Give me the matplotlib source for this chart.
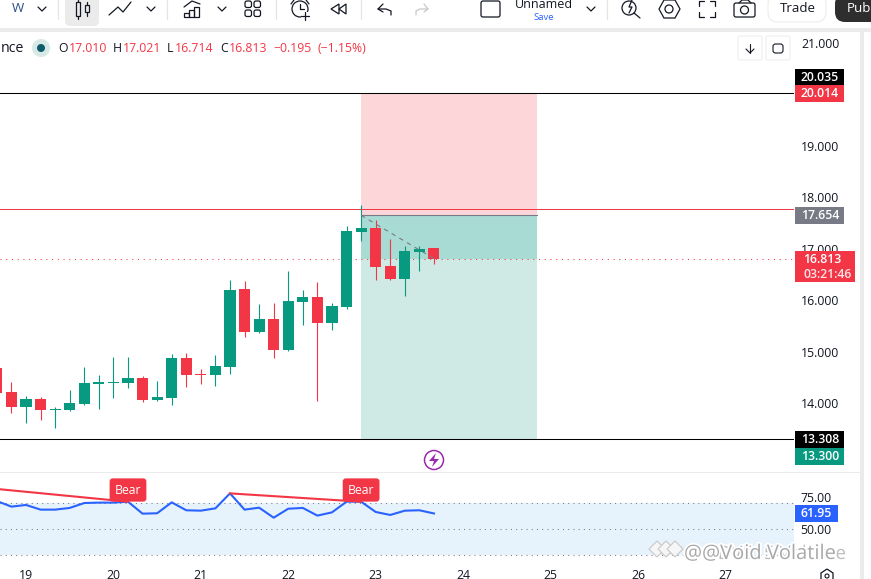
import matplotlib
matplotlib.use("Agg")
import matplotlib.pyplot as plt
import matplotlib.patheffects as pe
from matplotlib.patches import Rectangle, FancyBboxPatch, Circle, Polygon

plt.rcParams['font.family'] = ['Open Sans', 'DejaVu Sans']

# 4h candles, first one is just off the left edge
first_index = -2
opens = [14.69, 14.22, 13.93, 14.09, 13.87, 13.87, 13.99, 14.38, 14.40, 14.40, 14.50, 14.07, 14.11, 14.88, 14.57,
         14.55, 14.71, 16.22, 15.39, 15.64, 15.04, 15.97, 16.07, 15.56, 15.87, 17.33, 17.41, 16.67, 16.42, 16.94, 17.010]
highs = [14.75, 14.42, 14.15, 14.13, 13.93, 14.26, 14.71, 14.55, 14.90, 14.90, 14.53, 14.44, 14.96, 14.98, 14.67,
         14.94, 16.40, 16.38, 15.93, 15.95, 16.57, 16.20, 16.36, 15.95, 17.45, 17.85, 17.56, 17.19, 17.06, 17.06, 17.021]
lows = [14.15, 13.82, 13.62, 13.68, 13.52, 13.85, 13.97, 13.89, 14.11, 14.30, 14.03, 14.05, 13.97, 14.32, 14.38,
        14.34, 14.57, 15.29, 15.37, 14.88, 15.02, 15.52, 14.05, 15.43, 15.84, 17.16, 16.40, 16.40, 16.09, 16.57, 16.714]
closes = [14.20, 13.93, 14.09, 13.87, 13.89, 14.01, 14.40, 14.42, 14.42, 14.50, 14.07, 14.13, 14.88, 14.55, 14.55,
          14.73, 16.20, 15.39, 15.64, 15.04, 15.99, 16.07, 15.56, 15.89, 17.35, 17.41, 16.65, 16.42, 16.96, 17.00, 16.813]
rsi = [71.5, 67.2, 68.5, 64.9, 64.9, 66.2, 70.0, 70.3, 70.3, 71.0, 61.8, 62.1, 70.5, 64.4, 64.1, 65.9, 77.4,
       64.9, 66.4, 58.7, 65.6, 66.2, 60.3, 62.8, 71.0, 71.0, 63.1, 60.8, 64.1, 64.4, 61.95]

day_labels = ['19', '20', '21', '22', '23', '24', '25', '26', '27']
price_ticks = [14, 15, 16, 17, 18, 19, 20, 21]
rsi_ticks = [50, 75]
stop_price = 20.014
entry_price = 17.654
target_price = 13.300
last_price = 16.813
upper_line = 20.02
lower_line = 13.308
red_line = 17.78

GREEN = '#089981'
RED = '#f23645'
TEXT = '#131722'
W, H = 871, 579


def px_rect(left, top, right, bottom):
    return [left / W, 1 - bottom / H, (right - left) / W, (bottom - top) / H]


def k_from_px(px):
    return (px - 26) / 14.57


def price_to_px(price):
    return 43 + (21 - price) * 51.5


fig = plt.figure(figsize=(8.71, 5.79), dpi=100, facecolor='white')
ax = fig.add_axes(px_rect(0, 32, 794, 472))
ax_rsi = fig.add_axes(px_rect(0, 472, 794, 567))
over = fig.add_axes([0, 0, 1, 1], zorder=5)
over.set_xlim(0, W)
over.set_ylim(H, 0)
over.axis('off')
over.patch.set_alpha(0)

xlim = (k_from_px(0), k_from_px(794))
ax.set_xlim(xlim)
ax.set_ylim(21 - (472 - 43) / 51.5, 21 + (43 - 32) / 51.5)
ax_rsi.set_xlim(xlim)
ax_rsi.set_ylim(50 + (529 - 567) / 1.3, 50 + (529 - 472) / 1.3)

for a in (ax, ax_rsi):
    for s in a.spines.values():
        s.set_visible(False)

# position tool
box_start = 23
box_width = 12.07
ax.add_patch(Rectangle((box_start, entry_price), box_width, stop_price - entry_price, fc='#fcd6d9', ec='none', zorder=1))
ax.add_patch(Rectangle((box_start, target_price), box_width, entry_price - target_price, fc='#cfeae5', ec='none', zorder=1))
ax.add_patch(Rectangle((box_start, last_price), box_width, entry_price - last_price, fc='#a8dbd3', ec='none', zorder=1))
ax.plot([box_start, box_start + box_width], [entry_price, entry_price], color='#787b86', lw=0.8, zorder=2)
ax.plot([box_start, 28], [entry_price, last_price], color='#787b86', lw=0.8, dashes=(4, 4), zorder=4)

ax.axhline(upper_line, color='black', lw=0.75, zorder=2)
ax.axhline(lower_line, color='black', lw=0.75, zorder=2)
ax.axhline(red_line, color=RED, lw=0.72, antialiased=False, zorder=2)
ax.axhline(last_price, color=RED, lw=0.75, dashes=(1, 4.5), zorder=2)

for i in range(len(opens)):
    k = first_index + i
    color = GREEN if closes[i] >= opens[i] else RED
    ax.vlines(k, lows[i], highs[i], color=color, lw=0.8, zorder=3)
    ax.bar(k, abs(closes[i] - opens[i]), bottom=min(opens[i], closes[i]), width=0.76, color=color, lw=0, zorder=3)

ax.set_xticks([])
ax.yaxis.tick_right()
ax.set_yticks(price_ticks)
ax.set_yticklabels(['%.3f' % p for p in price_ticks], ha='right', fontsize=8.8, color=TEXT)
ax.tick_params(axis='y', length=0, pad=32.8)

# rsi pane
k_rsi = [first_index + i for i in range(len(rsi))]
ax_rsi.axhspan(30, 70, color='#e6f3fd', lw=0, zorder=1)
for level in (30, 50, 70):
    ax_rsi.axhline(level, color='#787b86', lw=0.75, dashes=(1, 4), zorder=2)
ax_rsi.plot(k_rsi, rsi, color='#2962ff', lw=1.5, zorder=3)
ax_rsi.plot([first_index, 7], [80.8, 71.0], color=RED, lw=1.5, zorder=3)
ax_rsi.plot([14, 23], [77.4, 71.0], color=RED, lw=1.5, zorder=3)
for k_bear in (7, 23):
    ax_rsi.plot([k_bear], [72.5], marker='v', ms=5, color=RED, mew=0, zorder=4)
    ax_rsi.annotate('Bear', xy=(k_bear, 80), ha='center', va='center', color='white', fontsize=8.8, zorder=5,
                    bbox=dict(boxstyle='round,pad=0.42,rounding_size=0.25', fc=RED, ec='none'))

ax_rsi.set_xticks(range(0, 54, 6))
ax_rsi.set_xticklabels(day_labels, fontsize=8.8, color=TEXT)
ax_rsi.tick_params(axis='x', length=0, pad=1.5)
ax_rsi.yaxis.tick_right()
ax_rsi.set_yticks(rsi_ticks)
ax_rsi.set_yticklabels(['%.2f' % v for v in rsi_ticks], ha='right', fontsize=8.8, color=TEXT)
ax_rsi.tick_params(axis='y', length=0, pad=27)


# panel frames
def band(l, t, r, b, color):
    over.add_patch(Rectangle((l, t), r - l, b - t, fc=color, ec='none'))


def line(xs, ys, color='#131722', lw=0.9):
    over.plot(xs, ys, color=color, lw=lw, solid_capstyle='round', solid_joinstyle='round')


def chevron(x, y=9):
    line([x - 4, x, x + 4], [y - 2, y + 2, y - 2], lw=0.9)


def rounded(l, t, r, b, fc='none', ec='#131722', lw=0.9, rad=2):
    over.add_patch(FancyBboxPatch((l + rad, t + rad), r - l - 2 * rad, b - t - 2 * rad,
                                  boxstyle='round,pad=%f,rounding_size=%f' % (rad, rad),
                                  fc=fc, ec=ec, lw=lw, mutation_aspect=1))


band(0, 28, W, 32, '#ebebeb')
band(860, 28, 864, H, '#ebebeb')
band(0, 471.5, 860, 473, '#ebebeb')


# price tags
def tag(y_mid, text, color, right=844, text_x=839, height=17):
    band(795, y_mid - height / 2, right, y_mid + height / 2, color)
    over.text(text_x, y_mid, text, ha='right', va='center', color='white', fontsize=8.8, fontweight='semibold')


tag(77.5, '20.035', 'black')
tag(price_to_px(stop_price), '%.3f' % stop_price, RED)
tag(price_to_px(entry_price), '%.3f' % entry_price, '#787b86')
tag(439.5, '13.308', 'black')
tag(456.5, '%.3f' % target_price, GREEN)
band(795, 251, 855, 282, RED)
over.text(803, 259.5, '%.3f' % last_price, ha='left', va='center', color='white', fontsize=8.8, fontweight='semibold')
over.text(803, 274, '03:21:46', ha='left', va='center', color='#fde4e6', fontsize=8.8, fontweight='semibold')
tag(513.5, '%.2f' % rsi[-1], '#2962ff', right=838, text_x=832)

# legend row
over.text(24.5, 48, 'nce', ha='right', va='center', color=TEXT, fontsize=10.2)
over.add_patch(Circle((41, 48), 9, fc='#d6e9e7', ec='none'))
over.add_patch(Circle((41, 48), 4, fc='#0c5c6c', ec='none'))
legend_parts = [(58, 'O', TEXT), (69, '17.010', RED), (113, 'H', TEXT), (123, '17.021', RED), (167, 'L', TEXT),
                (175, '16.714', RED), (220, 'C', TEXT), (229, '16.813', RED), (273, '\u22120.195', RED),
                (317, '(\u22121.15%)', RED)]
for x, s, c in legend_parts:
    over.text(x, 48, s, ha='left', va='center', color=c, fontsize=8.8)

# small pane buttons
rounded(738, 36, 762, 60, ec='#f0f0f0')
rounded(766, 36, 790, 60, ec='#f0f0f0')
line([750, 750], [44, 53], lw=0.8)
line([746, 750, 754], [49, 53, 49], lw=0.8)
rounded(773, 44, 783, 53, lw=0.8, rad=2.5)

# toolbar
over.text(18, 9, 'W', ha='center', va='center', color='#2f4f86', fontsize=9.5)
chevron(42)
for x in (58, 167, 276, 361, 607):
    line([x, x], [0, 19], color='#e4e4e4', lw=0.9)
rounded(65, -6, 99, 26, fc='#ebebeb', ec='none', rad=5)
line([78, 78], [0, 19])
over.add_patch(Rectangle((76, 2), 4, 14, fc='#ebebeb', ec=TEXT, lw=0.9, zorder=3))
line([87, 87], [2, 16])
over.add_patch(Rectangle((85, 5), 4, 7, fc='#ebebeb', ec=TEXT, lw=0.9, zorder=3))
line([109, 118, 123, 131], [15, 7, 12, 2])
chevron(151)
line([184, 192, 200], [7, 1, 4])
for x, top in ((184, 13), (189, 10), (194, 7)):
    over.add_patch(Rectangle((x, top), 5, 17 - top, fc='none', ec=TEXT, lw=0.9))
chevron(222)
for x in (245, 254):
    for y in (1, 10):
        rounded(x, y, x + 6.5, y + 6.5, lw=0.9)
over.add_patch(Circle((300, 9), 8, fc='none', ec=TEXT, lw=0.9))
line([300, 300, 304], [4, 9, 9])
line([291, 294], [4, 0])
line([306, 309], [0, 4])
band(301, 12, 311, 21, 'white')
line([305, 305], [12, 20])
line([301, 309], [16, 16])
over.add_patch(Polygon([[339, 4], [331, 9], [339, 14]], closed=True, fc='none', ec=TEXT, lw=0.9))
over.add_patch(Polygon([[346, 4], [339, 9], [346, 14]], closed=True, fc='none', ec=TEXT, lw=0.9))
line([383, 378, 383], [4, 9, 12])
line([378, 386, 391, 391], [9, 9, 11, 15])
line([424, 428, 424], [4, 9, 12], color='#c8c8c8')
line([428, 420, 416, 416], [9, 9, 11, 15], color='#c8c8c8')
rounded(481, 1, 500, 17, lw=0.9)
over.text(544, 4, 'Unnamed', ha='center', va='center', color=TEXT, fontsize=9)
over.text(544, 17, 'Save', ha='center', va='center', color='#2962ff', fontsize=6.8)
chevron(591)
over.add_patch(Circle((629, 8), 7, fc='none', ec=TEXT, lw=0.9))
line([634, 640], [13, 18])
line([632, 629, 632, 629], [0, 7, 7, 13])
over.add_patch(Polygon([[659, 9], [664, 0], [675, 0], [680, 9], [675, 18], [664, 18]], closed=True, fc='none', ec=TEXT, lw=0.9))
over.add_patch(Circle((669, 9), 4, fc='none', ec=TEXT, lw=0.9))
for xs, ys in (([699, 699, 704], [6, 1, 1]), ([710, 715, 715], [1, 1, 6]),
               ([699, 699, 704], [12, 17, 17]), ([710, 715, 715], [17, 17, 12])):
    line(xs, ys)
rounded(734, 3, 755, 17, lw=0.9)
line([739, 742, 748, 751], [3, 0, 0, 3])
over.add_patch(Circle((744.5, 10), 4, fc='none', ec=TEXT, lw=0.9))
rounded(768, -6, 826, 22, ec='#eeeeee', rad=10)
over.text(798, 9, 'Trade', ha='center', va='center', color=TEXT, fontsize=9.6)
rounded(835, -6, 890, 22, fc='#2e2e2e', ec='none', rad=10)
over.text(847, 9, 'Pub', ha='left', va='center', color='white', fontsize=9.6)

# flash icon under the chart
over.add_patch(Circle((434, 460), 9.5, fc='white', ec='#9c27b0', lw=1.1))
over.add_patch(Polygon([[436, 453], [429, 461], [434, 461], [432, 467], [439, 459], [434, 459]],
                       closed=True, fc='#9c27b0', ec='none'))

# settings icon, cut off at the bottom
over.add_patch(Polygon([[827, 569], [833, 573], [833, 581], [821, 581], [821, 573]], closed=True, fc='none', ec=TEXT, lw=0.9))
over.add_patch(Circle((827, 576), 2, fc='none', ec=TEXT, lw=0.8))

# watermark, two strings on top of each other
halo = [pe.withStroke(linewidth=2.5, foreground='white')]
for x in (657, 666, 675):
    over.add_patch(Polygon([[x - 8, 549], [x, 541], [x + 8, 549], [x, 557]], closed=True, fc='#f6f6f6', ec='#c8c8c8', lw=0.8))
over.text(684, 554, '@@DV515 Volume', ha='left', va='center', color='#bcbcbc', fontsize=13.5, path_effects=halo)
over.text(684, 554, '@@Void Volatile', ha='left', va='center', color='#a8a8a8', fontsize=14.5, path_effects=halo)

fig.savefig('out.png', dpi=100, facecolor='white')
